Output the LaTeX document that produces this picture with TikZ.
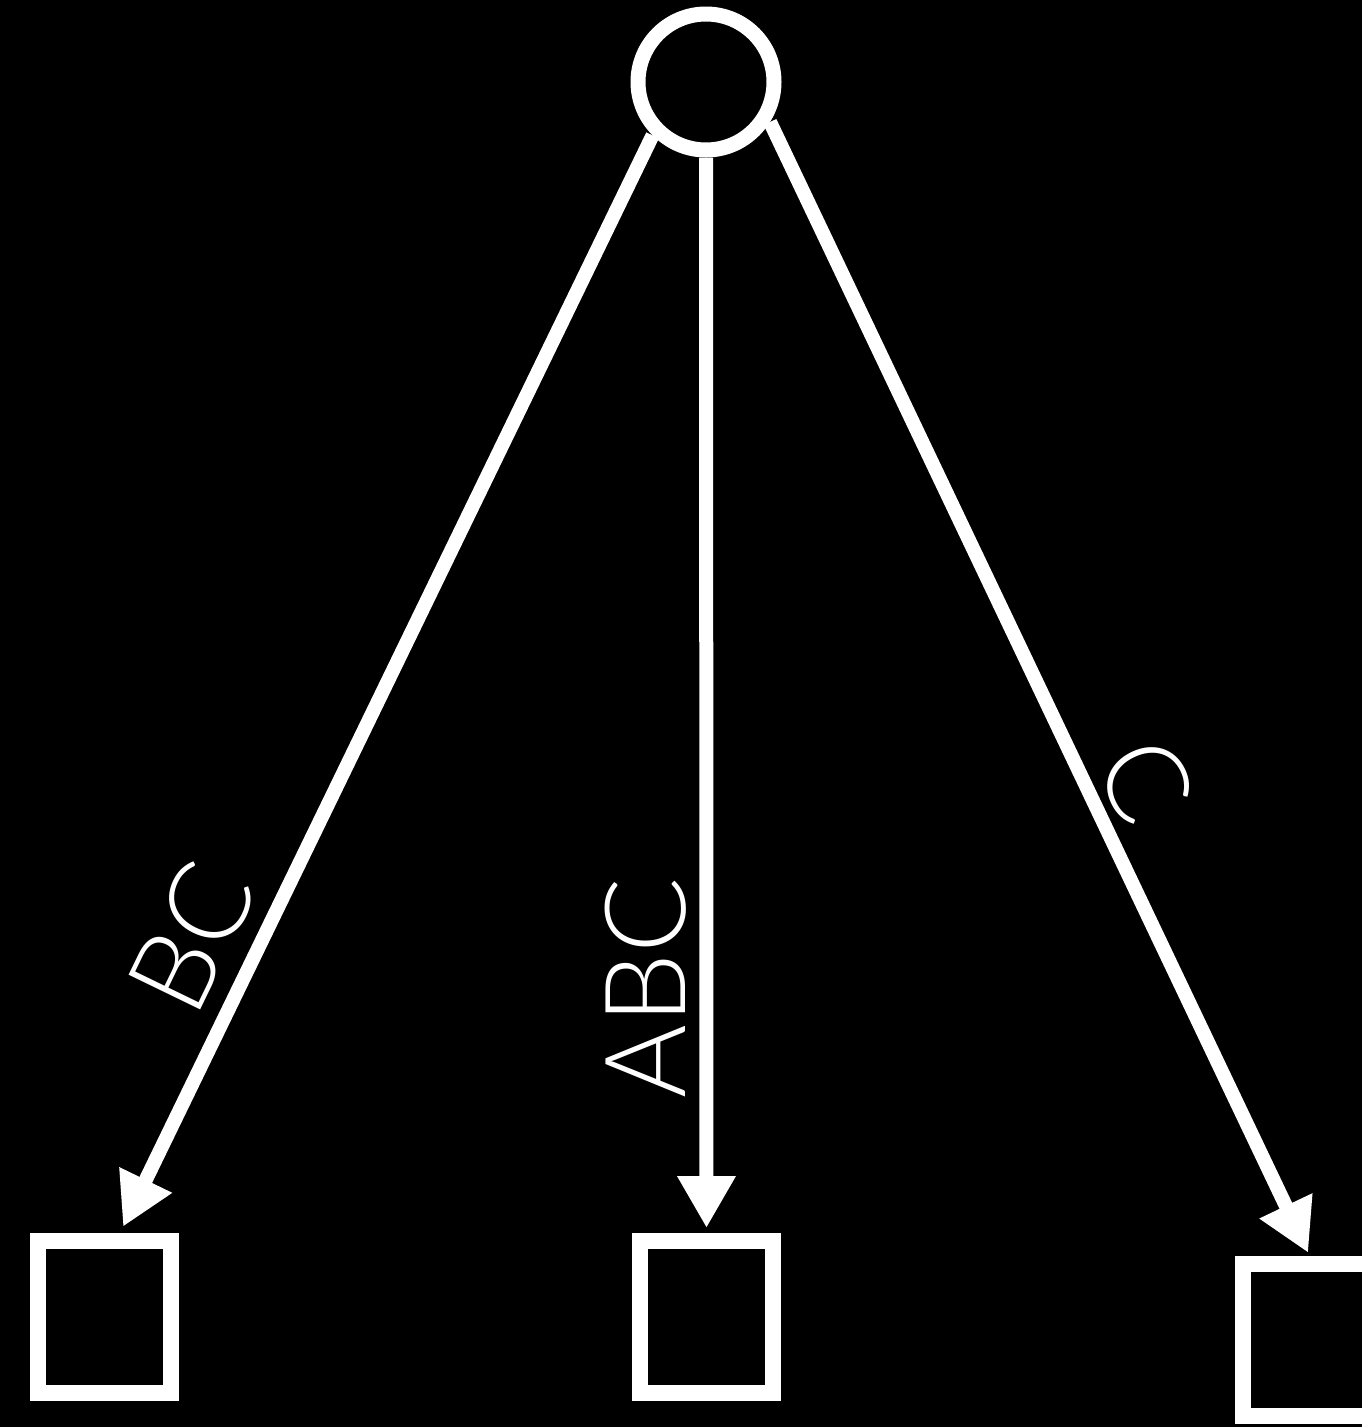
\documentclass[tikz,border=0pt]{standalone}
\usepackage{fontspec}
\setmainfont{Lato}[UprightFont={* Light}]
\usetikzlibrary{arrows.meta,positioning,calc}

\begin{document}
\begin{tikzpicture}[
    every node/.style={font=\fontsize{64}{64}\selectfont,text=white},
    root/.style={draw=white,line width=0.3cm,circle,minimum size=2.72cm,inner sep=0pt},
    leaf/.style={draw=white,line width=0.32cm,rectangle,minimum width=2.66cm,minimum height=3.04cm,inner sep=0pt},
    arr/.style={-{Triangle[length=1.04cm,width=1.1cm]},line width=0.28cm,white},
    lbl/.style={sloped,above}
]
\fill[black] (0,0) rectangle (27.24,-28.54);
\useasboundingbox (0,0) rectangle (27.24,-28.54);

\node[root] (root) at (14.12,-1.64) {};

\node[leaf] (left)  at (2.09,-26.34) {};
\node[leaf] (mid)   at (14.13,-26.34) {};
\node[leaf] (right) at (26.19,-26.79) {};

\draw[arr,shorten >=0.14cm] (root.225) -- ([xshift=0.31cm]left.north)
    node[lbl,pos=0.756,inner sep=0.34cm] (bc) {BC};
\draw[arr,shorten >=0.1cm] (root) -- (mid.north)
    node[rotate=90,anchor=south,pos=0.772,inner sep=0.27cm] (abc) {ABC};
\draw[arr,shorten >=0.06cm] (root.-32) -- (right.north)
    node[lbl,pos=0.602,inner sep=0.17cm] (c) {C};
\end{tikzpicture}
\end{document}
